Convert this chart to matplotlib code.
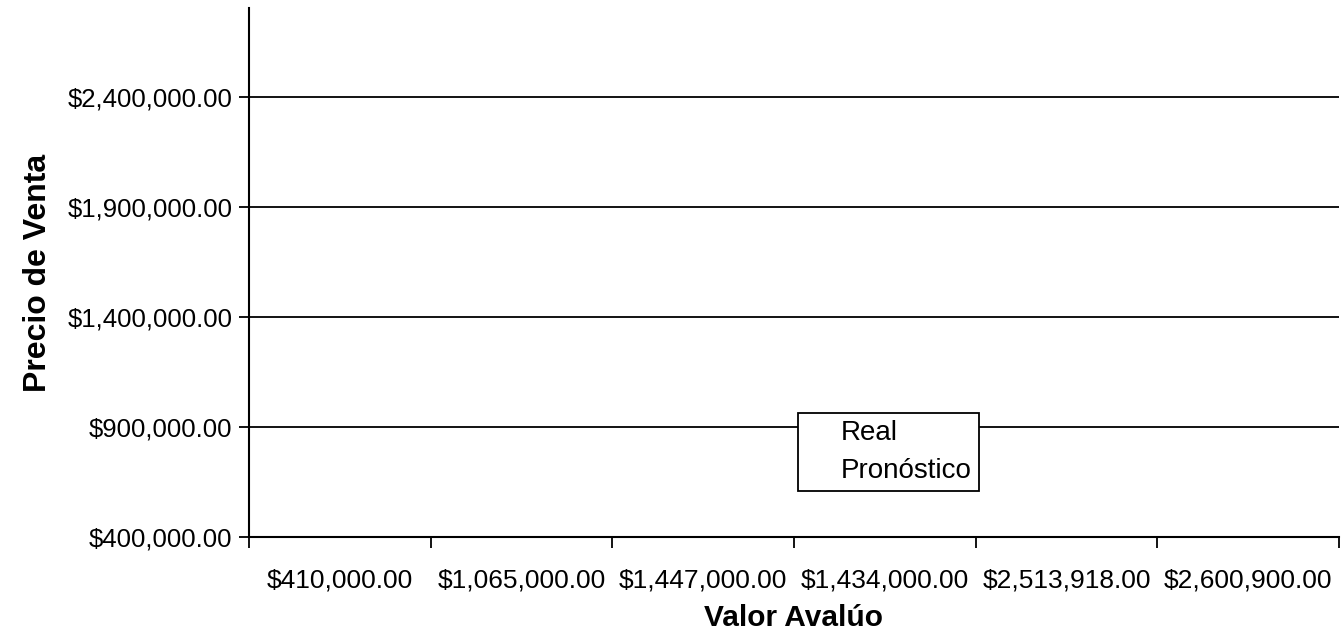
import matplotlib.pyplot as plt
from matplotlib.ticker import FuncFormatter

plt.rcParams['font.family'] = ['Liberation Sans', 'DejaVu Sans']

valor_avaluo = ['$410,000.00', '$1,065,000.00', '$1,447,000.00',
                '$1,434,000.00', '$2,513,918.00', '$2,600,900.00']
series_names = ['Real', 'Pronóstico']
y_ticks = [400000, 900000, 1400000, 1900000, 2400000]

fig = plt.figure(figsize=(13.41, 6.37), dpi=100)
ax = fig.add_axes([249 / 1341, 1 - 537 / 637, 1090 / 1341, 529 / 637])

# series have no line or marker, so only the legend text shows
for name in series_names:
    ax.plot([], [], ls='none', marker='none', label=name)

ax.set_xlim(-0.5, len(valor_avaluo) - 0.5)
ax.set_ylim(400000, 2805000)

ax.set_yticks(y_ticks)
ax.yaxis.set_major_formatter(FuncFormatter(lambda v, p: '${:,.2f}'.format(v)))
ax.grid(axis='y', color='black', lw=1.3)
ax.set_axisbelow(True)

ax.set_xticks(range(len(valor_avaluo)))
ax.set_xticklabels(valor_avaluo)
ax.set_xticks([i - 0.5 for i in range(len(valor_avaluo) + 1)], minor=True)
ax.tick_params(axis='x', which='major', length=0, pad=23, labelsize=19)
ax.tick_params(axis='x', which='minor', length=8, width=1.3, direction='out')
ax.tick_params(axis='y', length=7, width=1.3, labelsize=18.5, pad=5)

for s in ['top', 'right']:
    ax.spines[s].set_visible(False)
for s in ['left', 'bottom']:
    ax.spines[s].set_linewidth(1.5)
    ax.spines[s].set_color('black')

ax.set_xlabel('Valor Avalúo', fontsize=21.5, fontweight='bold', labelpad=8)
ax.set_ylabel('Precio de Venta', fontsize=23, fontweight='bold', labelpad=10)

leg = ax.legend(loc='upper left', bbox_to_anchor=(549 / 1090, 124 / 529),
                fontsize=20, frameon=True, fancybox=False,
                handlelength=0.9, handletextpad=0.4, borderpad=0.25,
                labelspacing=0.45, borderaxespad=0)
leg.get_frame().set_edgecolor('black')
leg.get_frame().set_linewidth(1.3)
leg.get_frame().set_alpha(1)

fig.savefig('out.png', dpi=100)
